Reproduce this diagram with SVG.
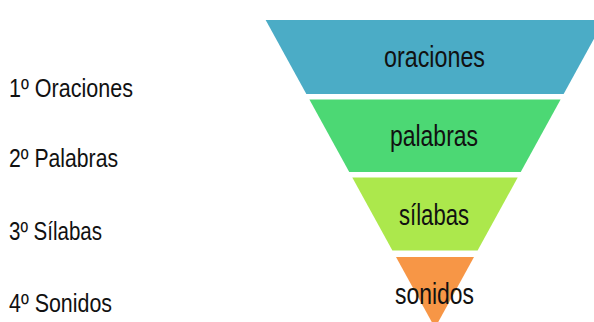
<svg xmlns="http://www.w3.org/2000/svg" width="594" height="322" viewBox="0 0 594 322">
<style>
.lbl{font-family:"Liberation Sans",Arial,sans-serif;font-size:30px;fill:#111;text-anchor:middle}
.side{font-family:"Liberation Sans",Arial,sans-serif;font-size:26px;fill:#111}
</style>
<rect width="594" height="322" fill="#fff"/>
<g id="band-oraciones">
<polygon points="265.65,20 604.35,20 563.65,94 306.35,94" fill="#4bacc6"/>
<text class="lbl" x="434.5" y="66.5" textLength="101" lengthAdjust="spacingAndGlyphs">oraciones</text>
</g>
<g id="band-palabras">
<polygon points="309.4,99.5 560.6,99.5 520.75,172 349.25,172" fill="#4cd874"/>
<text class="lbl" x="434" y="145.5" textLength="88" lengthAdjust="spacingAndGlyphs">palabras</text>
</g>
<g id="band-silabas">
<polygon points="352.3,177.5 517.7,177.5 477.6,250.5 392.4,250.5" fill="#ace84c"/>
<text class="lbl" x="434" y="225" textLength="70" lengthAdjust="spacingAndGlyphs">sílabas</text>
</g>
<g id="band-sonidos">
<polygon points="396,257 474,257 435,327.9" fill="#f79646"/>
<text class="lbl" x="434.5" y="304" textLength="79" lengthAdjust="spacingAndGlyphs">sonidos</text>
</g>
<g id="connectors"></g>
<g id="side-labels">
<text class="side" x="9" y="96.5" textLength="124" lengthAdjust="spacingAndGlyphs">1º Oraciones</text>
<text class="side" x="9" y="167" textLength="109" lengthAdjust="spacingAndGlyphs">2º Palabras</text>
<text class="side" x="9" y="240" textLength="93" lengthAdjust="spacingAndGlyphs">3º Sílabas</text>
<text class="side" x="9" y="311.5" textLength="103" lengthAdjust="spacingAndGlyphs">4º Sonidos</text>
</g>
</svg>
